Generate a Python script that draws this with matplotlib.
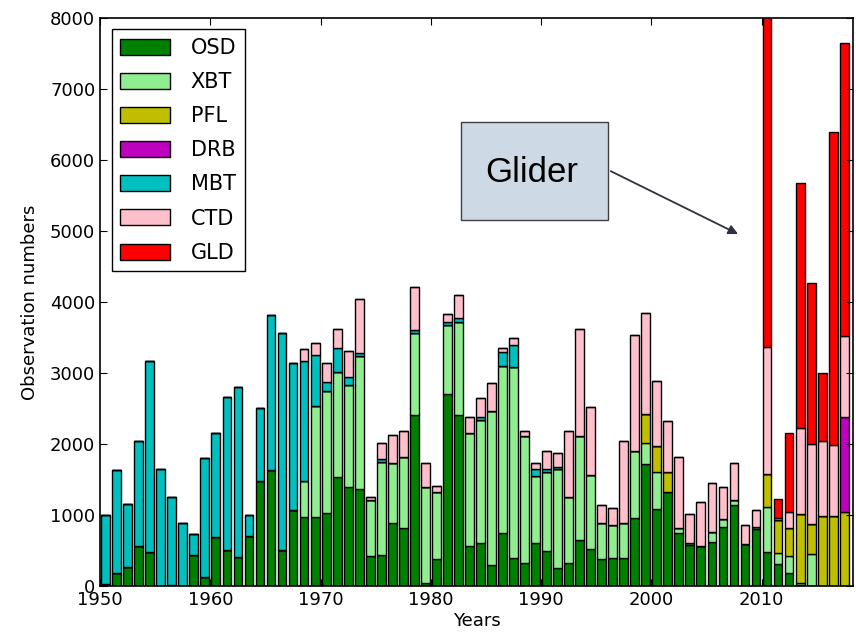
import matplotlib
matplotlib.use("Agg")
import matplotlib.pyplot as plt
from matplotlib.patches import Rectangle
import numpy as np

years = list(range(1950, 2018))

# observation counts per platform, stacked bottom to top in this order
osd = [30, 180, 265, 565, 480, 0, 20, 0, 430, 120,
       690, 500, 415, 705, 1485, 1635, 507, 1070, 967, 976,
       1032, 1530, 1398, 1361, 422, 436, 883, 821, 2403, 38,
       376, 2703, 2403, 563, 601, 296, 742, 390, 319, 601,
       497, 249, 328, 648, 516, 385, 390, 390, 953, 1718,
       1080, 1328, 742, 577, 563, 624, 835, 1136, 591, 798,
       473, 312, 177, 20, 0, 0, 0, 0]
xbt = [0, 0, 0, 0, 0, 0, 0, 0, 0, 0,
       0, 0, 0, 0, 0, 0, 0, 0, 516, 1558,
       1718, 1488, 1432, 1877, 789, 1314, 844, 991, 1154, 1360,
       952, 972, 1309, 1596, 1736, 2163, 2355, 2698, 1793, 948,
       1112, 1394, 930, 1464, 1047, 507, 469, 502, 952, 300,
       529, 0, 79, 33, 0, 141, 113, 75, 0, 37,
       645, 150, 242, 23, 457, 0, 0, 0]
pfl = [0] * 49 + [404, 366, 281, 0, 0, 0, 0, 0, 0, 0, 0,
                  457, 468, 404, 968, 419, 990, 990, 1038]
drb = [0] * 67 + [1344]
mbt = [970, 1460, 890, 1475, 2690, 1650, 1240, 890, 300, 1680,
       1470, 2160, 2390, 300, 1020, 2185, 3060, 2075, 1690, 718,
       127, 328, 117, 38, 0, 33, 0, 0, 47, 0,
       0, 47, 57, 0, 47, 0, 197, 309, 0, 94,
       34, 28] + [0] * 26
ctd = [0] * 18 + [159, 174,
       268, 277, 357, 761, 47, 234, 395, 375, 602, 338,
       80, 108, 324, 216, 258, 394, 52, 90, 75, 84,
       262, 206, 929, 1511, 962, 244, 235, 1154, 1625, 1426,
       907, 719, 991, 404, 624, 690, 450, 516, 268, 240,
       1785, 27, 215, 1209, 1129, 1058, 1000, 1139]
gld = [0] * 60 + [5440, 269, 1112, 3452, 2258, 951, 4409, 4130]

labels = ["OSD", "XBT", "PFL", "DRB", "MBT", "CTD", "GLD"]
colors = ["#008000", "#90ee90", "#bfbf00", "#bf00bf", "#00bfbf", "#ffc0cb", "#ff0000"]

plt.rcParams["font.family"] = "DejaVu Sans"
plt.rcParams["xtick.direction"] = "in"
plt.rcParams["ytick.direction"] = "in"
plt.rcParams["xtick.top"] = True
plt.rcParams["ytick.right"] = True

fig = plt.figure(figsize=(8.56, 6.32), dpi=100)
ax = fig.add_axes([0.117, 0.0728, 0.8795, 0.8987])

x = np.array(years) + 0.1
bottom = np.zeros(len(years))
for series, label, color in zip([osd, xbt, pfl, drb, mbt, ctd, gld], labels, colors):
    ax.bar(x, series, width=0.8, bottom=bottom, align="edge", color=color,
           edgecolor="black", linewidth=1.0, label=label)
    bottom += np.array(series)

ax.set_xlim(1950, 2018.3)
ax.set_ylim(0, 8000)
ax.set_xticks(range(1950, 2011, 10))
ax.set_yticks(range(0, 8001, 1000))
ax.tick_params(labelsize=13, length=5, width=0.8)
ax.set_xlabel("Years", fontsize=13, labelpad=2)
ax.set_ylabel("Observation numbers", fontsize=13, labelpad=8)
for s in ax.spines.values():
    s.set_linewidth(1.2)

leg = ax.legend(loc="upper left", fontsize=15, fancybox=False, framealpha=1,
                edgecolor="black", handlelength=2.4, handleheight=0.8,
                handletextpad=1.0, labelspacing=0.68, borderaxespad=0.55)
leg.get_frame().set_linewidth(1.0)

# "Glider" callout
ax.add_patch(Rectangle((1982.76, 5153), 13.34, 1380, facecolor="#cdd9e5",
                       edgecolor="#404040", linewidth=1.0, zorder=5))
ax.text(1989.2, 5830, "Glider", fontsize=25, family="Liberation Sans",
        ha="center", va="center", zorder=6)
ax.annotate("", xy=(2008.1, 4940), xytext=(1996.1, 5860),
            arrowprops=dict(arrowstyle="-|>", color="#2f3340", lw=1.3,
                            mutation_scale=14), zorder=6)

fig.savefig("out.png", dpi=100)
